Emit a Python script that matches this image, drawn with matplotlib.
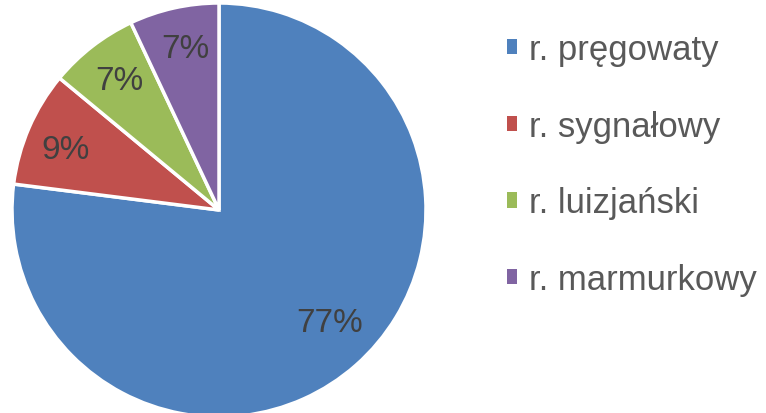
import numpy as np
import matplotlib
matplotlib.use("Agg")
import matplotlib.pyplot as plt
from matplotlib.patches import Patch

# Species shares
labels = ["r. pręgowaty", "r. sygnałowy", "r. luizjański", "r. marmurkowy"]
shares = [77, 9, 7, 7]
colors = ["#4F81BD", "#C0504D", "#9BBB59", "#8064A2"]

W, H = 766, 414
CX, CY, R = 219, H - 211, 207

fig = plt.figure(figsize=(W / 100, H / 100), dpi=100)
ax = fig.add_axes([0, 0, 1, 1])

font = "Liberation Sans"
wedges, texts, autotexts = ax.pie(
    shares,
    colors=colors,
    startangle=90,
    counterclock=False,
    center=(CX, CY),
    radius=R,
    autopct=lambda p: f"{p:.0f}%",
    pctdistance=0.79,
    wedgeprops=dict(edgecolor="white", linewidth=2.5),
    textprops=dict(fontsize=24, color="#404040", family=font),
    frame=True,
)
ax.set_xlim(0, W)
ax.set_ylim(0, H)
ax.set_aspect("equal")
ax.axis("off")

# best-fit style placement of the percentage labels inside each slice
label_frac = [0.75, 0.80, 0.80, 0.81]
label_turn = [4, 1, -1, -1]
for w, t, f, d in zip(wedges, autotexts, label_frac, label_turn):
    ang = np.deg2rad((w.theta1 + w.theta2) / 2 + d)
    t.set_position((CX + f * R * np.cos(ang), CY + f * R * np.sin(ang) - 3))

handles = [Patch(facecolor=c, edgecolor="none") for c in colors]
leg = ax.legend(
    handles, labels,
    loc="upper left",
    bbox_to_anchor=(493 / W, 1 - 20 / H),
    frameon=False,
    prop=dict(family=font, size=25),
    labelcolor="#595959",
    handlelength=0.3,
    handleheight=0.3,
    handletextpad=0.35,
    labelspacing=1.26,
    borderaxespad=0,
)

fig.savefig("out.png", dpi=100)
